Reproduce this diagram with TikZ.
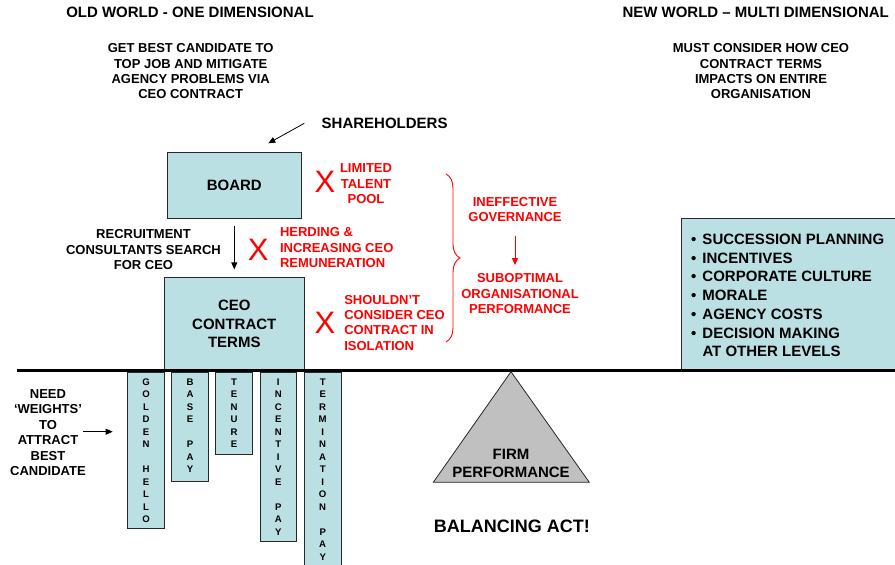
\documentclass[tikz,border=0pt]{standalone}
\usepackage{fontspec}
\setmainfont{Liberation Sans}
\usetikzlibrary{arrows.meta,decorations.pathreplacing}

\definecolor{boxfill}{RGB}{187,224,227}
\definecolor{warnred}{RGB}{255,0,0}
\definecolor{fulcrum}{RGB}{192,192,192}
\definecolor{edge}{RGB}{40,40,40}

% one bullet of the impact list, with the text indented after it
\newcommand{\itm}{\makebox[11.5pt][l]{\textbullet}}

% a hanging weight below the beam: name, centre x, bottom y, letters
\newcommand{\weightbar}[4]{%
  \node[panel, anchor=north, minimum width=36.6pt, minimum height={#3-372pt}] (#1) at (#2,372) {};
  \foreach \ch [count=\k] in {#4}
    \node[letter] (#1-\k) at (#2, 369.2+\k*12.5) {\ch};
}

\begin{document}
\begin{tikzpicture}[x=1pt,y=-1pt,
  every node/.style={inner sep=0pt, outer sep=0pt, font=\bfseries},
  t13/.style={font=\bfseries\fontsize{13}{15.4}\selectfont, align=center},
  t15/.style={font=\bfseries\fontsize{15}{18.4}\selectfont, align=center},
  redtext/.style={t13, text=warnred},
  cross/.style={font=\normalfont\fontsize{31}{31}\selectfont, text=warnred},
  panel/.style={draw=edge, line width=0.9pt, fill=boxfill},
  letter/.style={font=\bfseries\fontsize{9.6}{9.6}\selectfont},
  ptr/.style={-{Triangle[length=7pt,width=6pt]}, line width=0.8pt},
  redptr/.style={-{Triangle[length=7pt,width=6pt]}, line width=1pt, draw=warnred},
]
\path[use as bounding box] (0,0) rectangle (895,565);
\clip (0,0) rectangle (895,565);

% headings
\node[t15] (oldworld) at (190,12.8) {OLD WORLD - ONE DIMENSIONAL};
\node[t13] (oldgoal) at (190.7,71.4) {GET BEST CANDIDATE TO\\TOP JOB AND MITIGATE\\AGENCY PROBLEMS VIA\\CEO CONTRACT};
\node[t15, anchor=west] (newworld) at (622.5,12.8) {NEW WORLD – MULTI DIMENSIONAL};
\node[t13] (newgoal) at (761,71.4) {MUST CONSIDER HOW CEO\\CONTRACT TERMS\\IMPACTS ON ENTIRE\\ORGANISATION};

% shareholders and board
\node[t15, anchor=west] (shareholders) at (321.7,123.3) {SHAREHOLDERS};
\coordinate (sharetail) at (304.3,123.3);
\coordinate (sharetip) at (268.3,143.3);
\draw[ptr] (sharetail) -- (sharetip);

\node[panel, t15, minimum width=133.3pt, minimum height=66pt] (board) at (234.3,185.3) {BOARD};
\node[panel, t15, minimum width=140pt, minimum height=93.7pt] (ceo) at (234.3,324.2) {CEO\\CONTRACT\\TERMS};
\draw[ptr, shorten <=7.4pt, shorten >=8pt] (board) -- (ceo);
\node[t13] (recruit) at (143.5,249.8) {RECRUITMENT\\CONSULTANTS SEARCH\\FOR CEO};

% problems
\node[cross] (xtalent) at (325,181.7) {X};
\node[redtext] (talent) at (366,183.8) {LIMITED\\TALENT\\POOL};
\node[cross] (xherding) at (258.3,250.3) {X};
\node[redtext, align=left, anchor=west] (herding) at (280,247.8) {HERDING \&\\INCREASING CEO\\REMUNERATION};
\node[cross] (xisolation) at (325,322.5) {X};
\node[redtext, align=left, anchor=west] (isolation) at (344.3,322.7) {SHOULDN’T\\CONSIDER CEO\\CONTRACT IN\\ISOLATION};

% consequences
\coordinate (bracetop) at (446,174);
\coordinate (bracebot) at (446,342);
\draw[warnred, line width=0.9pt, decorate, decoration={brace, amplitude=14pt}] (bracetop) -- (bracebot);
\node[redtext] (ineffective) at (515,209.8) {INEFFECTIVE\\GOVERNANCE};
\node[redtext] (suboptimal) at (520,293.8) {SUBOPTIMAL\\ORGANISATIONAL\\PERFORMANCE};
\draw[redptr, shorten <=14pt, shorten >=8.7pt] (ineffective.south) -- (ineffective.south |- suboptimal.north);

% organisation-wide impacts
\node[panel, anchor=north west, minimum width=240pt, minimum height=152.7pt] (impacts) at (681.7,218.3) {};
\node[t15, align=left, anchor=west, font=\bfseries\fontsize{15}{18.73}\selectfont] (impactlist) at (691,295.5)
  {\itm SUCCESSION PLANNING\\\itm INCENTIVES\\\itm CORPORATE CULTURE\\\itm MORALE\\\itm AGENCY COSTS\\\itm DECISION MAKING\\\hspace*{11.5pt}AT OTHER LEVELS};

% the beam
\coordinate (beamleft) at (17,370.5);
\coordinate (beamright) at (900,370.5);
\draw[line width=2.6pt] (beamleft) -- (beamright);

% weights hanging from the beam
\weightbar{golden}{146}{528.3}{G,O,L,D,E,N,~,H,E,L,L,O}
\weightbar{base}{190}{481}{B,A,S,E,~,P,A,Y}
\weightbar{tenure}{234}{454.3}{T,E,N,U,R,E}
\weightbar{incentive}{278.3}{541.7}{I,N,C,E,N,T,I,V,E,~,P,A,Y}
\weightbar{termination}{322.7}{600}{T,E,R,M,I,N,A,T,I,O,N,~,P,A,Y}

\node[t13] (weights) at (48,432.5) {NEED\\‘WEIGHTS’\\TO\\ATTRACT\\BEST\\CANDIDATE};
\coordinate (weightstail) at (83.3,431.7);
\draw[ptr, shorten >=15pt] (weightstail) -- (golden.west |- weightstail);

% fulcrum
\draw[draw=edge, line width=0.8pt, fill=fulcrum] (511,371.7) -- (589.3,482.3) -- (433.3,482.3) -- cycle;
\node[t15] (firm) at (511,463.5) {FIRM\\PERFORMANCE};
\node[font=\bfseries\fontsize{18}{20}\selectfont] (balancing) at (511.8,526.7) {BALANCING ACT!};
\end{tikzpicture}
\end{document}
